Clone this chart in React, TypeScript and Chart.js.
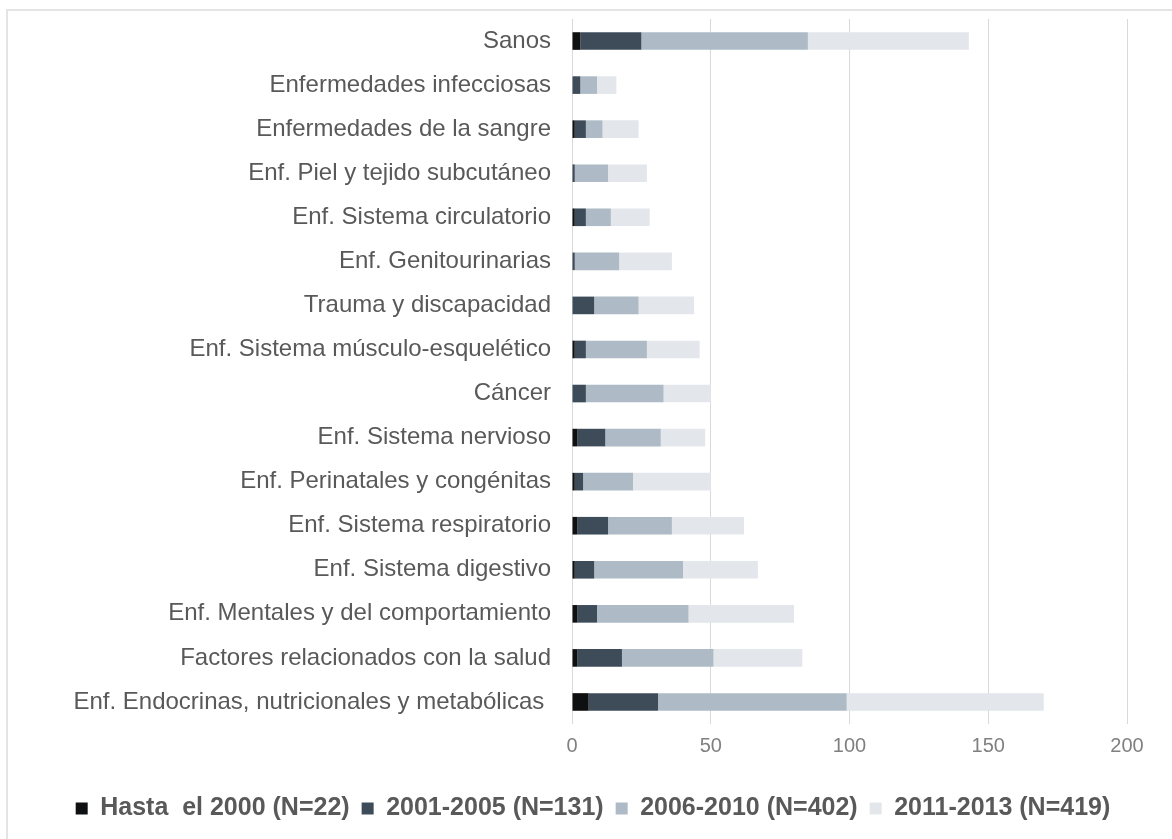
import React, { useEffect, useRef } from "react";
import { Chart, registerables } from "chart.js";

Chart.register(...registerables);

const categories = [
  "Sanos",
  "Enfermedades infecciosas",
  "Enfermedades de la sangre",
  "Enf. Piel y tejido subcutáneo",
  "Enf. Sistema circulatorio",
  "Enf. Genitourinarias",
  "Trauma y discapacidad",
  "Enf. Sistema músculo-esquelético",
  "Cáncer",
  "Enf. Sistema nervioso",
  "Enf. Perinatales y congénitas",
  "Enf. Sistema respiratorio",
  "Enf. Sistema digestivo",
  "Enf. Mentales y del comportamiento",
  "Factores relacionados con la salud",
  "Enf. Endocrinas, nutricionales y metabólicas ",
];

const hasta2000 = [3, 0, 1, 0, 1, 0, 0, 1, 0, 2, 1, 2, 1, 2, 2, 6];
const p2001_2005 = [22, 3, 4, 1, 4, 1, 8, 4, 5, 10, 3, 11, 7, 7, 16, 25];
const p2006_2010 = [60, 6, 6, 12, 9, 16, 16, 22, 28, 20, 18, 23, 32, 33, 33, 68];
const p2011_2013 = [58, 7, 13, 14, 14, 19, 20, 19, 17, 16, 28, 26, 27, 38, 32, 71];

const seriesLabels = [
  "Hasta  el 2000 (N=22)",
  "2001-2005 (N=131)",
  "2006-2010 (N=402)",
  "2011-2013 (N=419)",
];

const xTicks = [0, 50, 100, 150, 200];

export default function App() {
  const ref = useRef<HTMLCanvasElement>(null);

  useEffect(() => {
    if (!ref.current) return;
    const colors = ["#0e1012", "#3e4c5a", "#aebbc6", "#e3e7eb"];
    const series = [hasta2000, p2001_2005, p2006_2010, p2011_2013];
    const chart = new Chart(ref.current, {
      type: "bar",
      data: {
        labels: categories,
        datasets: series.map((d, i) => ({
          label: seriesLabels[i],
          data: d,
          backgroundColor: colors[i],
          borderWidth: 0,
          categoryPercentage: 1,
          barPercentage: 0.4,
        })),
      },
      options: {
        indexAxis: "y",
        animation: false,
        responsive: false,
        maintainAspectRatio: false,
        layout: { autoPadding: false, padding: { left: 59, right: 45, top: 19, bottom: 8 } },
        plugins: {
          tooltip: { enabled: false },
          legend: {
            position: "bottom",
            labels: {
              boxWidth: 12,
              boxHeight: 12,
              padding: 12,
              color: "#595959",
              font: { family: "'Liberation Sans', Arial, sans-serif", size: 25, weight: "bold" },
            },
          },
        },
        scales: {
          x: {
            stacked: true,
            min: 0,
            max: 200,
            afterBuildTicks: (scale: any) => {
              scale.ticks = xTicks.map((v) => ({ value: v }));
            },
            afterFit: (scale: any) => {
              scale.height = 60;
              scale.paddingLeft = 0;
              scale.paddingRight = 0;
            },
            border: { display: false },
            grid: { color: "#d9d9d9", lineWidth: 1, drawTicks: false },
            ticks: {
              padding: 10,
              color: "#808080",
              font: { family: "'Liberation Sans', Arial, sans-serif", size: 20 },
            },
          },
          y: {
            stacked: true,
            afterFit: (scale: any) => {
              scale.width = 513;
              scale.paddingTop = 0;
              scale.paddingBottom = 0;
            },
            border: { display: false },
            grid: { display: false, drawTicks: false },
            ticks: {
              padding: 21,
              color: "#595959",
              autoSkip: false,
              font: { family: "'Liberation Sans', Arial, sans-serif", size: 24 },
            },
          },
        },
      },
    });
    return () => chart.destroy();
  }, []);

  return (
    <div style={{ position: "fixed", left: 0, top: 0, width: 1172, height: 839, background: "#fff" }}>
      <div
        style={{
          position: "absolute",
          left: 6,
          top: 9,
          width: 1200,
          height: 900,
          borderTop: "2px solid #e4e4e4",
          borderLeft: "2px solid #e4e4e4",
        }}
      />
      <canvas
        ref={ref}
        width={1172}
        height={839}
        style={{ position: "absolute", left: 0, top: 0, width: 1172, height: 839 }}
      />
    </div>
  );
}
